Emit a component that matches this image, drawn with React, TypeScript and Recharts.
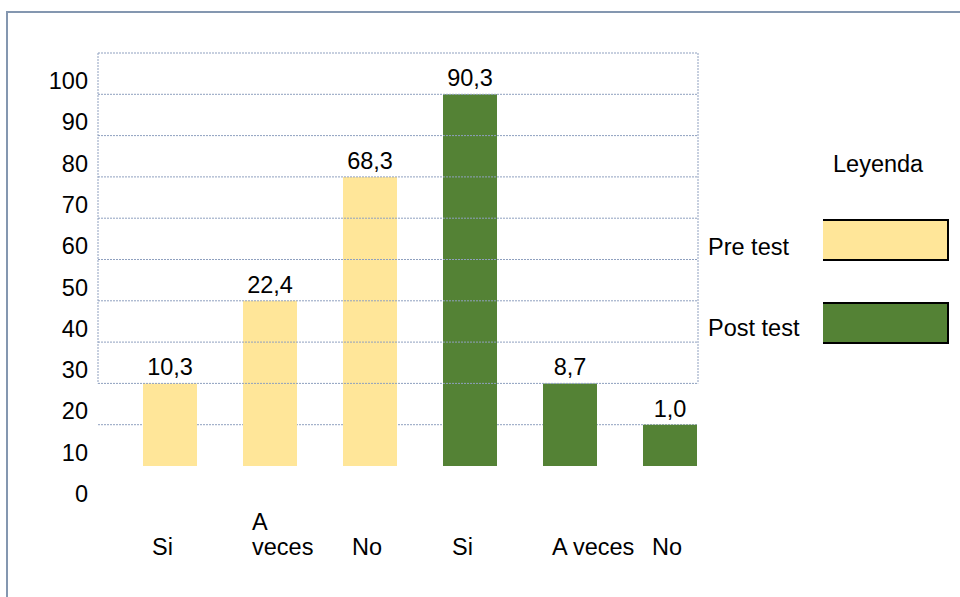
import React from "react";
import {
  BarChart,
  Bar,
  XAxis,
  YAxis,
  CartesianGrid,
  Cell,
  LabelList,
} from "recharts";

// ---- data ----
const categories = ["Si", "A\nveces", "No", "Si", "A veces", "No"];
const preTestHeights = [20, 40, 70];
const postTestHeights = [90, 20, 10];
const valueLabels = ["10,3", "22,4", "68,3", "90,3", "8,7", "1,0"];
const seriesNames = ["Pre test", "Post test"];
const legendTitle = "Leyenda";
const yTicks = [0, 10, 20, 30, 40, 50, 60, 70, 80, 90, 100];
const underGridValues = [10];
const boxGridValues = [20, 30, 40, 50, 60, 70, 80, 90, 100];
const yDomain = [0, 100];
const boxDomain = [20, 100];

const seriesColors: Record<string, string> = {
  "Pre test": "#FFE699",
  "Post test": "#548235",
};

const data = [
  ...preTestHeights.map((v, i) => ({
    cat: categories[i],
    value: v,
    label: valueLabels[i],
    series: seriesNames[0],
  })),
  ...postTestHeights.map((v, i) => ({
    cat: categories[preTestHeights.length + i],
    value: v,
    label: valueLabels[preTestHeights.length + i],
    series: seriesNames[1],
  })),
];

// ---- layout ----
const W = 960;
const H = 597;
const TOP = 53;
const X_AXIS_H = 131;
const Y_AXIS_W = 98;
const RIGHT = 262;
const PLOT_H = H - TOP - X_AXIS_H;
const BOX_BOTTOM =
  H - (TOP + PLOT_H * (1 - (boxDomain[0] - yDomain[0]) / (yDomain[1] - yDomain[0])));

const FONT = "'Liberation Sans', Arial, Helvetica, sans-serif";
const FS = 23.5;
const GRID = "#8FA0BF";

const YTick = (props: any) => {
  const { x, y, payload } = props;
  return (
    <text x={x} y={y + 36} textAnchor="end" fontSize={FS} fill="#000" fontFamily={FONT}>
      {payload.value}
    </text>
  );
};

const XTick = (props: any) => {
  const { x, y, payload } = props;
  const lines = String(payload.value).split("\n");
  const n = lines.length;
  return (
    <g>
      {lines.map((ln, i) => (
        <text
          key={i}
          x={x - 18}
          y={y + 89 - (n - 1 - i) * 25}
          textAnchor="start"
          fontSize={FS}
          fill="#000"
          fontFamily={FONT}
        >
          {ln}
        </text>
      ))}
    </g>
  );
};

const ValueLabel = (props: any) => {
  const { x, y, width, value } = props;
  if (value == null) return null;
  return (
    <text
      x={x + width / 2}
      y={y - 8}
      textAnchor="middle"
      fontSize={FS}
      fill="#000"
      fontFamily={FONT}
    >
      {value}
    </text>
  );
};

const edgeGenerator = (p: any) => {
  const o = p.offset;
  return [o.left, o.left + o.width];
};

export default function App() {
  return (
    <div
      style={{
        position: "fixed",
        left: 0,
        top: 0,
        width: W,
        height: H,
        overflow: "hidden",
        background: "#fff",
        fontFamily: FONT,
      }}
    >
      <div
        style={{
          position: "absolute",
          left: 6,
          top: 11,
          width: 1100,
          height: 800,
          borderLeft: "2px solid #8497B0",
          borderTop: "2px solid #8497B0",
        }}
      />
      {/* main chart */}
      <div style={{ position: "absolute", left: 0, top: 0 }}>
        <BarChart
          width={W}
          height={H}
          data={data}
          margin={{ top: TOP, right: RIGHT, bottom: 0, left: 0 }}
          barSize={54}
        >
          <CartesianGrid
            horizontal={true}
            vertical={false}
            horizontalValues={underGridValues}
            stroke={GRID}
            strokeDasharray="2 1"
          />
          <XAxis
            dataKey="cat"
            tickLine={false}
            axisLine={false}
            tickSize={0}
            tickMargin={0}
            height={X_AXIS_H}
            interval={0}
            padding={{ left: 22, right: -22 }}
            tick={<XTick />}
          />
          <YAxis
            width={Y_AXIS_W}
            domain={yDomain}
            ticks={yTicks}
            tickLine={false}
            axisLine={false}
            tickSize={0}
            tickMargin={10}
            interval={0}
            tick={<YTick />}
          />
          <Bar dataKey="value" isAnimationActive={false}>
            {data.map((d, i) => (
              <Cell key={i} fill={seriesColors[d.series]} />
            ))}
            <LabelList dataKey="label" content={<ValueLabel />} />
          </Bar>
        </BarChart>
      </div>
      {/* grid box drawn over the bars */}
      <div style={{ position: "absolute", left: 0, top: 0, pointerEvents: "none" }}>
        <BarChart
          width={W}
          height={H}
          data={data}
          margin={{ top: TOP, right: RIGHT, bottom: BOX_BOTTOM, left: Y_AXIS_W }}
        >
          <XAxis dataKey="cat" hide />
          <YAxis
            dataKey="value"
            type="number"
            domain={boxDomain}
            ticks={boxGridValues}
            allowDataOverflow
            interval={0}
            hide
          />
          <CartesianGrid
            horizontal={true}
            vertical={true}
            horizontalValues={boxGridValues}
            verticalCoordinatesGenerator={edgeGenerator}
            stroke={GRID}
            strokeDasharray="2 1"
            fill="none"
          />
        </BarChart>
      </div>
      {/* legend */}
      <div
        style={{
          position: "absolute",
          left: 833,
          top: 149,
          height: 30,
          lineHeight: "30px",
          fontSize: FS,
          color: "#000",
          whiteSpace: "nowrap",
        }}
      >
        {legendTitle}
      </div>
      {seriesNames.map((name, i) => (
        <React.Fragment key={name}>
          <div
            style={{
              position: "absolute",
              left: 708,
              top: 232 + i * 81,
              height: 30,
              lineHeight: "30px",
              fontSize: FS,
              color: "#000",
              whiteSpace: "nowrap",
            }}
          >
            {name}
          </div>
          <div
            style={{
              position: "absolute",
              left: 823,
              top: 219 + i * 83,
              width: 124,
              height: 38,
              background: seriesColors[name],
              borderTop: "2px solid #000",
              borderRight: "2px solid #000",
              borderBottom: "2px solid #000",
            }}
          />
        </React.Fragment>
      ))}
    </div>
  );
}
